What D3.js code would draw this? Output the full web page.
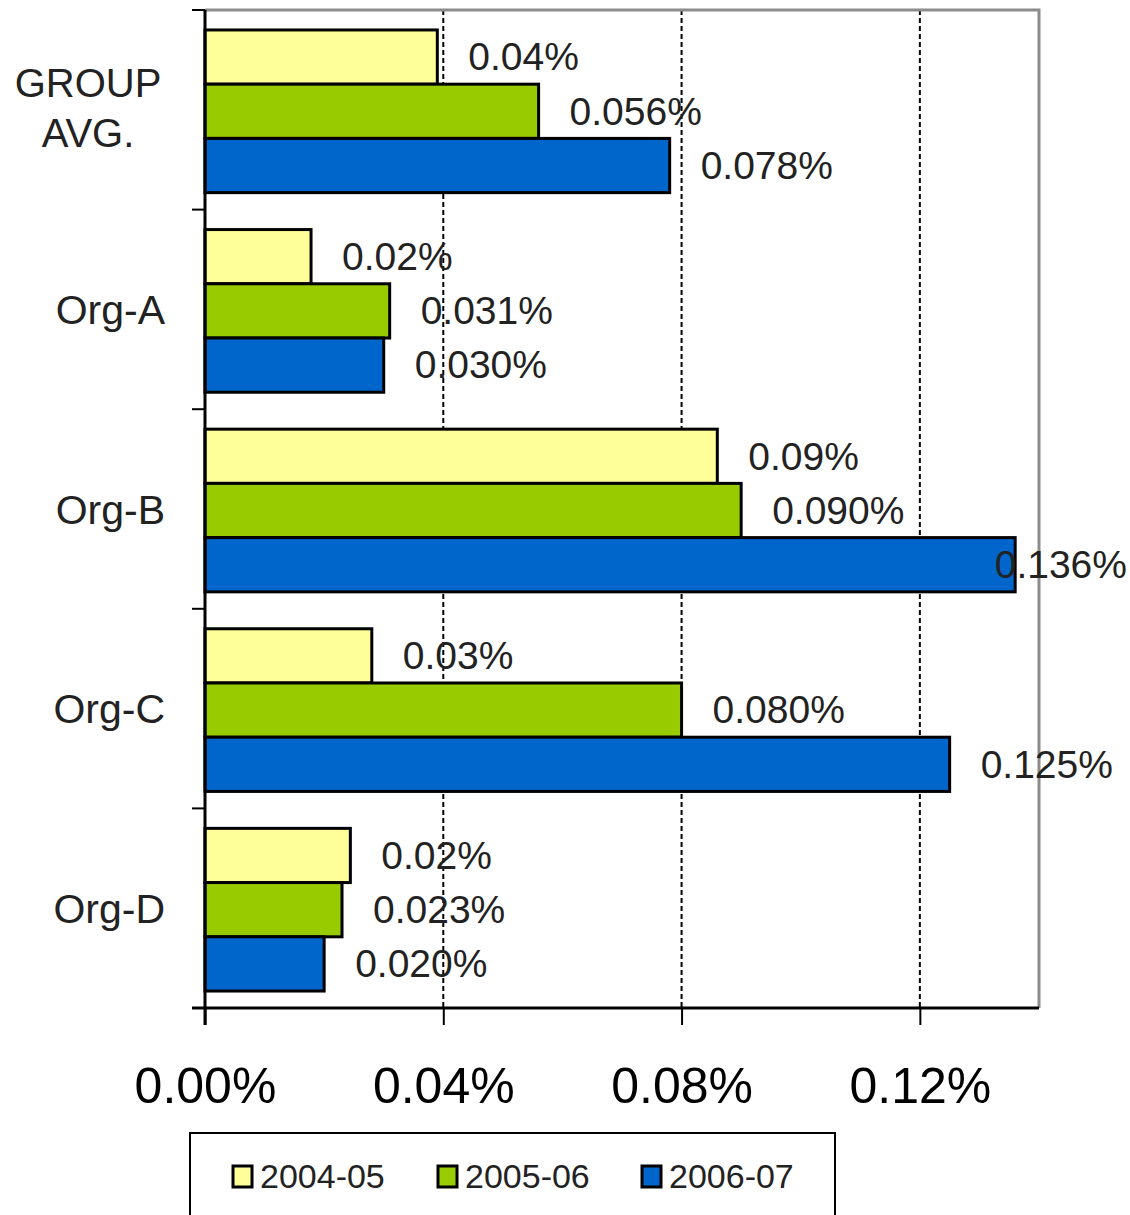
<!DOCTYPE html>
<html>
<head>
<meta charset="utf-8">
<script src="https://cdn.jsdelivr.net/npm/d3@7"></script>
<style>
  body { margin: 0; background: #fff; }
  svg { display: block; font-family: "Liberation Sans", Arial, sans-serif; }
</style>
</head>
<body>
<div id="chart"></div>
<script>
// data (values are in percent)
const categories = ["GROUP AVG.", "Org-A", "Org-B", "Org-C", "Org-D"];
const seriesNames = ["2004-05", "2005-06", "2006-07"];
const values0405 = [0.039, 0.0178, 0.086, 0.028, 0.0244];
const values0506 = [0.056, 0.031, 0.090, 0.080, 0.023];
const values0607 = [0.078, 0.030, 0.136, 0.125, 0.020];
const labelFormats = [".2f", ".3f", ".3f"];
const xTicks = [0, 0.04, 0.08, 0.12];
const colors = ["#FFFF99", "#99CC00", "#0066CC"];

const allSeries = [values0405, values0506, values0607];

const W = 1130, H = 1215;
const margin = { top: 10, right: 91, bottom: 207, left: 205 };
const width = W - margin.left - margin.right;
const height = H - margin.top - margin.bottom;

const svg = d3.select("#chart").append("svg")
    .attr("width", W)
    .attr("height", H);

const g = svg.append("g")
    .attr("transform", `translate(${margin.left},${margin.top})`);

const x = d3.scaleLinear().domain([0, 0.14]).range([0, width]);
const y = d3.scaleBand().domain(categories).range([0, height]).paddingInner(0).paddingOuter(0);
const bw = y.bandwidth();
const ySub = d3.scaleBand().domain(seriesNames).range([bw * 0.1, bw * 0.915]);

// gridlines
g.selectAll(".grid")
  .data(xTicks.filter(d => d > 0))
  .enter().append("line")
  .attr("x1", d => x(d)).attr("x2", d => x(d))
  .attr("y1", 0).attr("y2", height)
  .attr("stroke", "#000")
  .attr("stroke-width", 2)
  .attr("stroke-dasharray", "5,3");

// gray frame top/right
g.append("path")
  .attr("d", `M0,0H${width}V${height}`)
  .attr("fill", "none")
  .attr("stroke", "#8c8c8c")
  .attr("stroke-width", 3);

// bars
const rows = categories.map((c, i) => ({
  cat: c,
  vals: allSeries.map((s, j) => ({ cat: c, name: seriesNames[j], j: j, v: s[i] }))
}));

const grp = g.selectAll(".cat")
  .data(rows)
  .enter().append("g")
  .attr("transform", d => `translate(0,${y(d.cat)})`);

grp.selectAll("rect")
  .data(d => d.vals)
  .enter().append("rect")
  .attr("x", 0)
  .attr("y", d => ySub(d.name))
  .attr("width", d => x(d.v))
  .attr("height", ySub.bandwidth())
  .attr("fill", d => colors[d.j])
  .attr("stroke", "#000")
  .attr("stroke-width", 3);

// data labels
grp.selectAll(".lbl")
  .data(d => d.vals)
  .enter().append("text")
  .attr("class", "lbl")
  .attr("y", d => ySub(d.name) + ySub.bandwidth() / 2)
  .attr("dy", "0.34em")
  .attr("font-size", 39)
  .attr("fill", "#222")
  .text(d => d3.format(labelFormats[d.j])(d.v) + "%")
  .attr("x", function(d) {
    const tw = this.getComputedTextLength();
    const maxX = W - 3 - margin.left - tw;
    return Math.min(x(d.v) + 31, maxX);
  });

// bottom axis
const xAxis = g.append("g")
  .attr("transform", `translate(0,${height})`)
  .call(d3.axisBottom(x).tickValues(xTicks)
    .tickFormat(d => d3.format(".2f")(d) + "%")
    .tickSizeInner(17).tickSizeOuter(0).tickPadding(42));
xAxis.select(".domain").attr("stroke", "#000").attr("stroke-width", 3)
  .attr("d", `M-13,0H${width}`);
xAxis.selectAll(".tick line").attr("stroke", "#000").attr("stroke-width", 2);
xAxis.selectAll(".tick text")
  .attr("font-size", 50)
  .attr("font-family", "'Liberation Sans', Arial, sans-serif")
  .attr("fill", "#000");

// left axis line + boundary ticks
g.append("line")
  .attr("x1", 0).attr("x2", 0)
  .attr("y1", 0).attr("y2", height + 17)
  .attr("stroke", "#000").attr("stroke-width", 3);

const bounds = categories.map(c => y(c)).concat([height]);
g.selectAll(".ytick")
  .data(bounds)
  .enter().append("line")
  .attr("x1", -13).attr("x2", 0)
  .attr("y1", d => d).attr("y2", d => d)
  .attr("stroke", "#000").attr("stroke-width", 2);

// category labels
g.selectAll(".catlbl")
  .data(categories)
  .enter().append("text")
  .attr("font-size", 40)
  .attr("fill", "#222")
  .each(function(c) {
    const t = d3.select(this);
    const lines = c.split(" ");
    const cy = y(c) + bw / 2;
    if (lines.length === 1) {
      t.attr("x", -40).attr("y", cy).attr("dy", "0.36em")
        .attr("font-size", 41)
        .attr("text-anchor", "end").text(c);
    } else {
      const lh = 50;
      t.attr("text-anchor", "middle");
      lines.forEach((ln, k) => {
        t.append("tspan")
          .attr("x", -117)
          .attr("y", cy + (k - (lines.length - 1) / 2) * lh - 2)
          .attr("dy", "0.36em")
          .text(ln);
      });
    }
  });

// legend
const leg = svg.append("g").attr("transform", "translate(190,1133)");
leg.append("rect")
  .attr("width", 645).attr("height", 120)
  .attr("fill", "#fff").attr("stroke", "#000").attr("stroke-width", 2);

const legX = [43, 248, 452];
const li = leg.selectAll(".li")
  .data(seriesNames)
  .enter().append("g")
  .attr("transform", (d, i) => `translate(${legX[i]},0)`);
li.append("rect")
  .attr("x", 0).attr("y", 33)
  .attr("width", 19).attr("height", 21)
  .attr("fill", (d, i) => colors[i])
  .attr("stroke", "#000").attr("stroke-width", 3);
li.append("text")
  .attr("x", 27).attr("y", 55)
  .attr("font-size", 34)
  .attr("fill", "#222")
  .text(d => d);
</script>
</body>
</html>
